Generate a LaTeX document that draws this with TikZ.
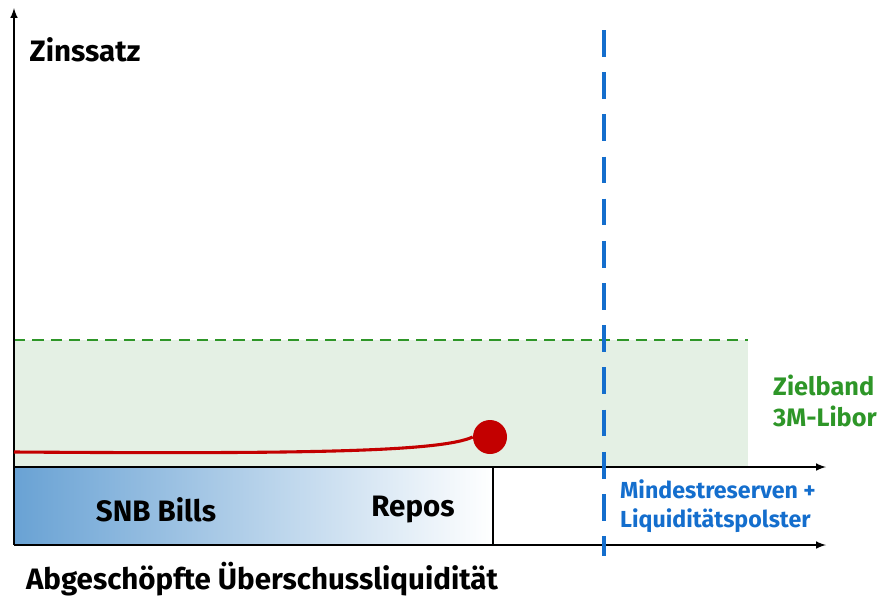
\documentclass[tikz,border=0pt]{standalone}
\usepackage{fontspec}
\setmainfont{Fira Sans}
\definecolor{bandgreen}{RGB}{228,240,228}
\definecolor{linegreen}{RGB}{46,150,40}
\definecolor{snbblue}{RGB}{20,110,205}
\definecolor{curvered}{RGB}{195,0,0}
\definecolor{billblue}{RGB}{105,162,212}
\tikzset{
  axis/.style={line width=1.4pt, -latex},
  lbl/.style={font=\fontsize{21}{24}\selectfont\bfseries, inner sep=0pt},
}
\begin{document}
\begin{tikzpicture}[x=0.025cm, y=-0.025cm]
        \useasboundingbox (0, 0) rectangle (881, 598);
        % band and shaded box
        \fill[bandgreen] (14, 340) rectangle (748, 467);
        \shade[left color=billblue, right color=white] (14, 467) rectangle (493, 545);
        \draw[linegreen, line width=2.1pt, dash pattern=on 8pt off 5pt] (14, 340) -- (748, 340);

        \coordinate (o)    at (14, 545);
        \coordinate (top)  at (14, 8);
        \coordinate (a1)   at (14, 467);
        \coordinate (a1e)  at (826, 467);
        \coordinate (a2e)  at (826, 545);
        \coordinate (sep1) at (493, 467);
        \coordinate (sep2) at (493, 545);
        \coordinate (vt)   at (604, 30);
        \coordinate (vb)   at (604, 556);
        \coordinate (c0)   at (14, 452);

        \node at (85, 50)    (zins)     [lbl] {Zinssatz};
        \node at (156, 510)  (bills)    [lbl] {SNB Bills};
        \node at (413, 510)  (repos)    [lbl] {Repos};
        \node at (262, 579)  (abg)      [lbl] {Abgeschöpfte Überschussliquidität};
        \node at (825, 401)  (ziel)     [lbl, text=linegreen, align=left, font=\fontsize{18}{22}\selectfont\bfseries] {Zielband\\3M-Libor};
        \node at (718, 506)  (mind)     [lbl, text=snbblue, align=left, font=\fontsize{16.5}{20.5}\selectfont\bfseries] {Mindestreserven +\\Liquiditätspolster};
        \node at (490, 437)  (dot)      [circle, fill=curvered, minimum size=0.85cm, inner sep=0pt] {};

        \draw[axis] (o) -- (top);
        \draw[axis] (a1) -- (a1e);
        \draw[axis] (o) -- (a2e);
        \draw[line width=1.4pt] (sep1) -- (sep2);
        \draw[curvered, line width=2.2pt] (c0) .. controls (300, 454) and (440, 452) .. (dot.west);
        \draw[snbblue, line width=2.8pt, dash pattern=on 19pt off 11pt] (vt) -- (vb);
    \end{tikzpicture}
\end{document}
